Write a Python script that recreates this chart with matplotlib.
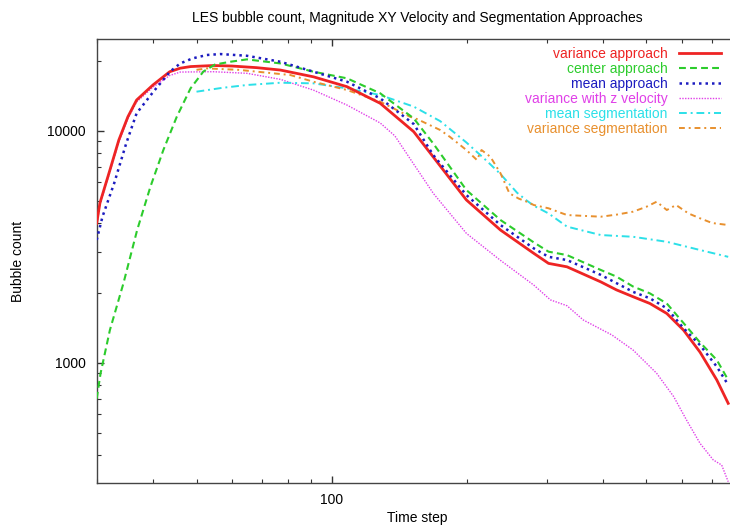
import numpy as np
import matplotlib
matplotlib.use("Agg")
import matplotlib.pyplot as plt
from matplotlib.ticker import LogLocator, NullFormatter, FixedLocator, FixedFormatter

plt.rcParams['font.family'] = ['Liberation Sans', 'DejaVu Sans']
plt.rcParams['font.size'] = 10

# ---- data (time step, bubble count) ----
var_x = [30, 30.5, 32.1, 33.6, 35.2, 36.8, 40, 43.6, 46, 48.5, 54.5, 60, 68, 76.8, 91, 108, 128, 152, 168,
         199, 237, 281, 303, 333, 396, 429, 467, 509, 555, 605, 658, 717, 760]
var_y = [3990, 4880, 6770, 9120, 11490, 13560, 15740, 17960, 18600, 18900, 19100, 19000, 18700, 18260,
         17070, 15480, 13130, 9900, 7700, 5030, 3730, 2960, 2680, 2590, 2230, 2060, 1925, 1800, 1630,
         1380, 1110, 842, 668]

cen_x = [30, 30.6, 32.1, 34.4, 36.9, 39.5, 42.2, 45.2, 48.5, 51.8, 55, 59.5, 64.7, 76.8, 91, 108, 128,
         152, 168, 199, 237, 281, 303, 333, 396, 429, 467, 509, 555, 605, 658, 717, 760]
cen_y = [700, 900, 1384, 2200, 3730, 5740, 8260, 11490, 15230, 18000, 19300, 19830, 20300, 19500, 17960,
         16820, 14500, 11300, 8800, 5550, 4120, 3300, 3010, 2910, 2510, 2350, 2130, 1990, 1800, 1480,
         1222, 1027, 842]

mean_x = [30, 30.9, 32.8, 34.9, 36.8, 40.1, 43.7, 46, 49, 52.7, 56.5, 64.7, 76.8, 91, 108, 128, 152, 168,
          199, 237, 281, 303, 333, 396, 467, 509, 555, 605, 658, 717, 760]
mean_y = [3380, 4260, 5930, 8830, 11890, 14730, 18000, 19500, 20500, 21200, 21400, 21040, 19830, 17960,
          16260, 13790, 10680, 7850, 5280, 3920, 3110, 2860, 2770, 2390, 2020, 1895, 1716, 1407, 1190,
          961, 802]

varz_x = [30, 30.5, 32.1, 33.6, 35.2, 36.8, 40, 43.6, 46, 54.5, 64.7, 76.8, 91, 108, 128, 138, 149, 168,
          199, 237, 281, 306, 333, 362, 419, 467, 527, 575, 614, 658, 704, 735, 760]
varz_y = [3900, 4800, 6650, 8950, 11300, 13300, 15400, 17300, 17900, 17960, 17680, 16650, 14960, 12900,
          10800, 9500, 7600, 5370, 3610, 2760, 2160, 1865, 1760, 1528, 1317, 1134, 900, 714, 566, 449,
          381, 362, 307]

mseg_x = [50, 57, 64.7, 76.8, 91, 108, 128, 152, 174, 199, 221, 237, 258, 271, 281, 303, 333, 396, 467,
          555, 658, 760]
mseg_y = [14730, 15300, 15740, 16100, 16000, 15230, 14250, 12700, 11000, 8900, 7400, 6500, 5400, 5000,
          4750, 4400, 3860, 3550, 3490, 3320, 3060, 2860]

vseg_x = [50, 52.7, 62, 74, 80.8, 91, 108, 128, 149, 155, 174, 183, 199, 210, 215, 225, 237, 248, 260,
          271, 281, 303, 333, 396, 430, 467, 500, 527, 555, 582, 620, 658, 700, 760]
vseg_y = [18300, 18560, 18300, 17680, 17380, 16260, 14980, 13340, 11500, 11200, 10070, 9400, 8256, 7478,
          8256, 7720, 6550, 5374, 5100, 4943, 4783, 4630, 4330, 4259, 4350, 4477, 4700, 4943, 4551, 4783,
          4400, 4192, 4000, 3922]

fig = plt.figure(figsize=(7.30, 5.29), dpi=100)
ax = fig.add_axes([96.7 / 730, 1 - 483 / 529, (730 - 96.7) / 730, (483 - 39) / 529])

ax.plot(varz_x, varz_y, color='#e040e8', lw=1.0, ls=(0, (1, 1)), label='variance with z velocity', zorder=2)
ax.plot(var_x, var_y, color='#ee2424', lw=2.0, ls='-', label='variance approach', zorder=3)
ax.plot(cen_x, cen_y, color='#2ccc2c', lw=1.5, ls=(0, (3.3, 2)), label='center approach', zorder=4)
ax.plot(mean_x, mean_y, color='#1c1cc0', lw=1.8, ls=(0, (1, 1.6)), label='mean approach', zorder=5)
ax.plot(mseg_x, mseg_y, color='#2ce0e8', lw=1.4, ls=(0, (4, 2, 1, 2)), label='mean segmentation', zorder=2)
ax.plot(vseg_x, vseg_y, color='#e8902e', lw=1.4, ls=(0, (3, 2, 1, 2)), label='variance segmentation', zorder=2)

ax.set_xscale('log')
ax.set_yscale('log')
ax.set_xlim(30, 767)
ax.set_ylim(303, 24850)

ax.xaxis.set_major_locator(FixedLocator([100]))
ax.xaxis.set_major_formatter(FixedFormatter(['100']))
ax.xaxis.set_minor_locator(LogLocator(base=10, subs=np.arange(2, 10)))
ax.xaxis.set_minor_formatter(NullFormatter())
ax.yaxis.set_major_locator(FixedLocator([1000, 10000]))
ax.yaxis.set_major_formatter(FixedFormatter(['1000', '10000']))
ax.yaxis.set_minor_locator(LogLocator(base=10, subs=np.arange(2, 10)))
ax.yaxis.set_minor_formatter(NullFormatter())

ax.tick_params(which='both', direction='in', top=True, right=False, colors='#333333', labelcolor='black')
ax.tick_params(which='major', length=5, width=1)
ax.tick_params(which='minor', length=3, width=0.8)
ax.tick_params(axis='x', which='major', pad=7)
ax.tick_params(axis='y', which='major', pad=8)
for s in ['left', 'bottom', 'top']:
    ax.spines[s].set_color('#444444')
    ax.spines[s].set_linewidth(1.0)
ax.spines['right'].set_visible(False)

# legend: text right-aligned, sample on the right, text in series colour
order = ['variance approach', 'center approach', 'mean approach', 'variance with z velocity',
         'mean segmentation', 'variance segmentation']
handles, labels = ax.get_legend_handles_labels()
hmap = dict(zip(labels, handles))
leg = ax.legend([hmap[k] for k in order], order, loc='upper right', bbox_to_anchor=(0.986, 0.982),
                frameon=False, markerfirst=False, borderpad=0, borderaxespad=0, labelspacing=0.07,
                handlelength=3.0, handletextpad=0.85, fontsize=10)
for txt, h in zip(leg.get_texts(), leg.legend_handles):
    txt.set_color(h.get_color())
    txt.set_ha('right')

fig.text(417 / 730, 1 - 18 / 529, 'LES bubble count, Magnitude XY Velocity and Segmentation Approaches',
         ha='center', va='center', fontsize=10)
fig.text(417 / 730, 1 - 518 / 529, 'Time step', ha='center', va='center', fontsize=10)
fig.text(18 / 730, 1 - 261 / 529, 'Bubble count', ha='center', va='center', rotation=90, fontsize=10)

fig.savefig('out.png', dpi=100)
